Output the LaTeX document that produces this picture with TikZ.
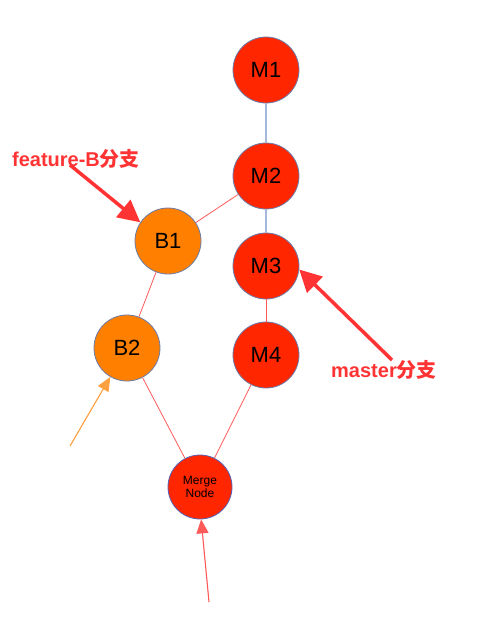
\documentclass[tikz,border=0pt]{standalone}
\usepackage{fontspec}
\setsansfont{Liberation Sans}
\newfontfamily\cjk{Noto Sans CJK SC}
\usetikzlibrary{arrows.meta}
\definecolor{mred}{HTML}{FF2600}
\definecolor{borange}{HTML}{FF8000}
\definecolor{bord}{HTML}{6B7BA8}
\definecolor{lred}{HTML}{FF3333}
\definecolor{edgered}{HTML}{FF5A5A}
\definecolor{edgeblue}{HTML}{A3B8DA}
\definecolor{aorange}{HTML}{FFA040}
\begin{document}
\begin{tikzpicture}[x=1pt,y=-1pt,
  commit/.style={circle,minimum size=66pt,inner sep=0pt,draw=bord,line width=0.8pt,
    font=\sffamily\fontsize{22}{24}\selectfont},
  mcommit/.style={commit,fill=mred},
  bcommit/.style={commit,fill=borange},
  redge/.style={draw=edgered,line width=0.8pt},
  bedge/.style={draw=edgeblue,line width=1.2pt},
  lbl/.style={text=lred,font=\sffamily\bfseries\fontsize{20}{24}\selectfont,inner sep=0pt},
  bigarrow/.style={draw=lred,line width=3.5pt,-{Triangle[length=22pt,width=22pt]}},
  smallarrow/.style={line width=1.1pt,-{Triangle[length=14pt,width=12pt]}}
]
\useasboundingbox (0,0) rectangle (477,632);
\node[mcommit] (M1) at (266,70) {M1};
\node[mcommit] (M2) at (266,176) {M2};
\node[mcommit] (M3) at (266,266) {M3};
\node[mcommit] (M4) at (266,355) {M4};
\node[bcommit] (B1) at (168,241) {B1};
\node[bcommit] (B2) at (127,348) {B2};
\node[mcommit,minimum size=64pt,draw=bord!80!blue,font=\sffamily\fontsize{12}{13}\selectfont,align=center] (MN) at (200,487) {Merge\\Node};
\draw[bedge] (M1) -- (M2);
\draw[bedge] (M2) -- (M3);
\draw[redge] (M3) -- (M4);
\draw[redge] (M2) -- (B1);
\draw[redge] (B1) -- (B2);
\draw[redge] (B2) -- (MN);
\draw[redge] (M4) -- (MN);
\node[lbl] (lf) at (76,159) {feature-B{\cjk 分支}};
\node[lbl] (lm) at (384,370) {master{\cjk 分支}};
\coordinate (fa) at (70,165);
\coordinate (ma) at (392,360);
\coordinate (oa) at (70,446);
\coordinate (ra) at (209,602);
\draw[bigarrow] (fa) -- (B1.146);
\draw[bigarrow] (ma) -- (M3.-6);
\draw[smallarrow,draw=aorange,fill=aorange] (oa) -- (B2.240);
\draw[smallarrow,draw=edgered,fill=edgered] (ra) -- (MN.272);
\end{tikzpicture}
\end{document}
